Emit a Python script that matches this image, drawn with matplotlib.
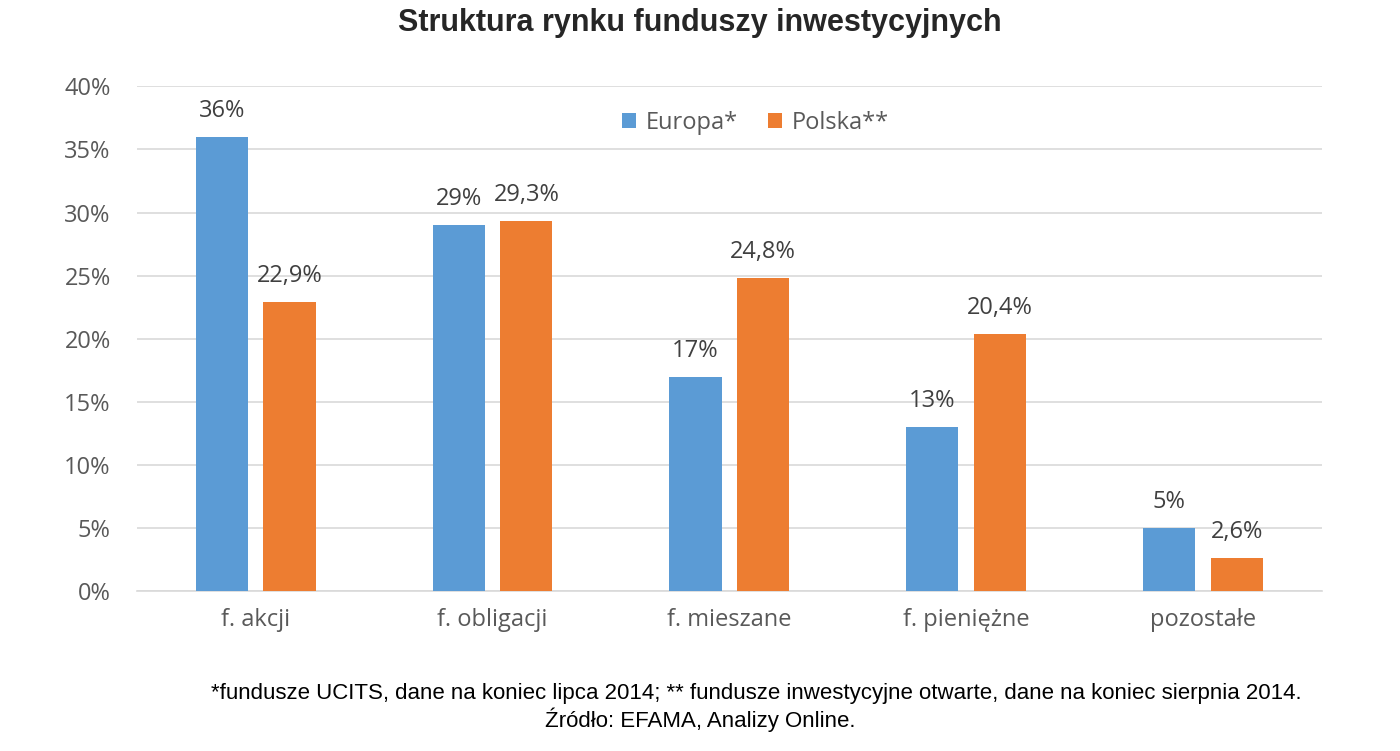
import matplotlib
matplotlib.use("Agg")
import matplotlib.pyplot as plt
import numpy as np

categories = ["f. akcji", "f. obligacji", "f. mieszane", "f. pieniężne", "pozostałe"]
europa = [36, 29, 17, 13, 5]
polska = [22.9, 29.3, 24.8, 20.4, 2.6]
europa_labels = ["36%", "29%", "17%", "13%", "5%"]
polska_labels = ["22,9%", "29,3%", "24,8%", "20,4%", "2,6%"]
y_ticks = [0, 5, 10, 15, 20, 25, 30, 35, 40]

blue = "#5B9BD5"
orange = "#ED7D31"
gray_txt = "#595959"
fs = 17

fig = plt.figure(figsize=(14, 7.51), dpi=100)
ax = fig.add_axes([0.098, 0.213, 0.846, 0.672])

x = np.arange(len(categories))
w = 0.22
off = 0.143
b1 = ax.bar(x - off, europa, w, color=blue, label="Europa*", zorder=3)
b2 = ax.bar(x + off, polska, w, color=orange, label="Polska**", zorder=3)

for rect, lab in zip(b1, europa_labels):
    ax.annotate(lab, (rect.get_x() + rect.get_width() / 2, rect.get_height()),
                xytext=(0, 10), textcoords="offset points", ha="center", va="bottom",
                fontsize=fs, color="#404040", family="Open Sans")
for rect, lab in zip(b2, polska_labels):
    ax.annotate(lab, (rect.get_x() + rect.get_width() / 2, rect.get_height()),
                xytext=(0, 10), textcoords="offset points", ha="center", va="bottom",
                fontsize=fs, color="#404040", family="Open Sans")

ax.set_xlim(-0.5, len(categories) - 0.5)
ax.set_ylim(0, 40)
ax.set_yticks(y_ticks)
ax.set_yticklabels([f"{t}%" for t in y_ticks], family="Open Sans", fontsize=fs, color=gray_txt)
ax.set_xticks(x)
ax.set_xticklabels(categories, family="Open Sans", fontsize=fs, color=gray_txt)
ax.tick_params(axis="x", length=0, pad=12)
ax.tick_params(axis="y", length=0, pad=19)
ax.grid(axis="y", color="#D9D9D9", linewidth=1.2, zorder=0)
for s in ["top", "right", "left"]:
    ax.spines[s].set_visible(False)
ax.spines["bottom"].set_color("#D9D9D9")
ax.spines["bottom"].set_linewidth(1.2)

leg = ax.legend(loc="center", bbox_to_anchor=(0.522, 0.928), ncol=2, frameon=False,
                prop={"family": "Open Sans", "size": fs}, handlelength=0.6, handleheight=0.6,
                columnspacing=1.3, handletextpad=0.4)
for t in leg.get_texts():
    t.set_color(gray_txt)

fig.text(0.5, 0.99, "Struktura rynku funduszy inwestycyjnych", ha="center", va="top",
         fontsize=22, fontweight="bold", family="Liberation Sans", color="#262626")
fig.text(0.54, 0.077, "*fundusze UCITS, dane na koniec lipca 2014; ** fundusze inwestycyjne otwarte, dane na koniec sierpnia 2014.",
         ha="center", va="center", fontsize=16, family="Liberation Sans", color="#000000")
fig.text(0.5, 0.041, "Źródło: EFAMA, Analizy Online.",
         ha="center", va="center", fontsize=16, family="Liberation Sans", color="#000000")

fig.savefig("out.png", dpi=100, facecolor="white")
